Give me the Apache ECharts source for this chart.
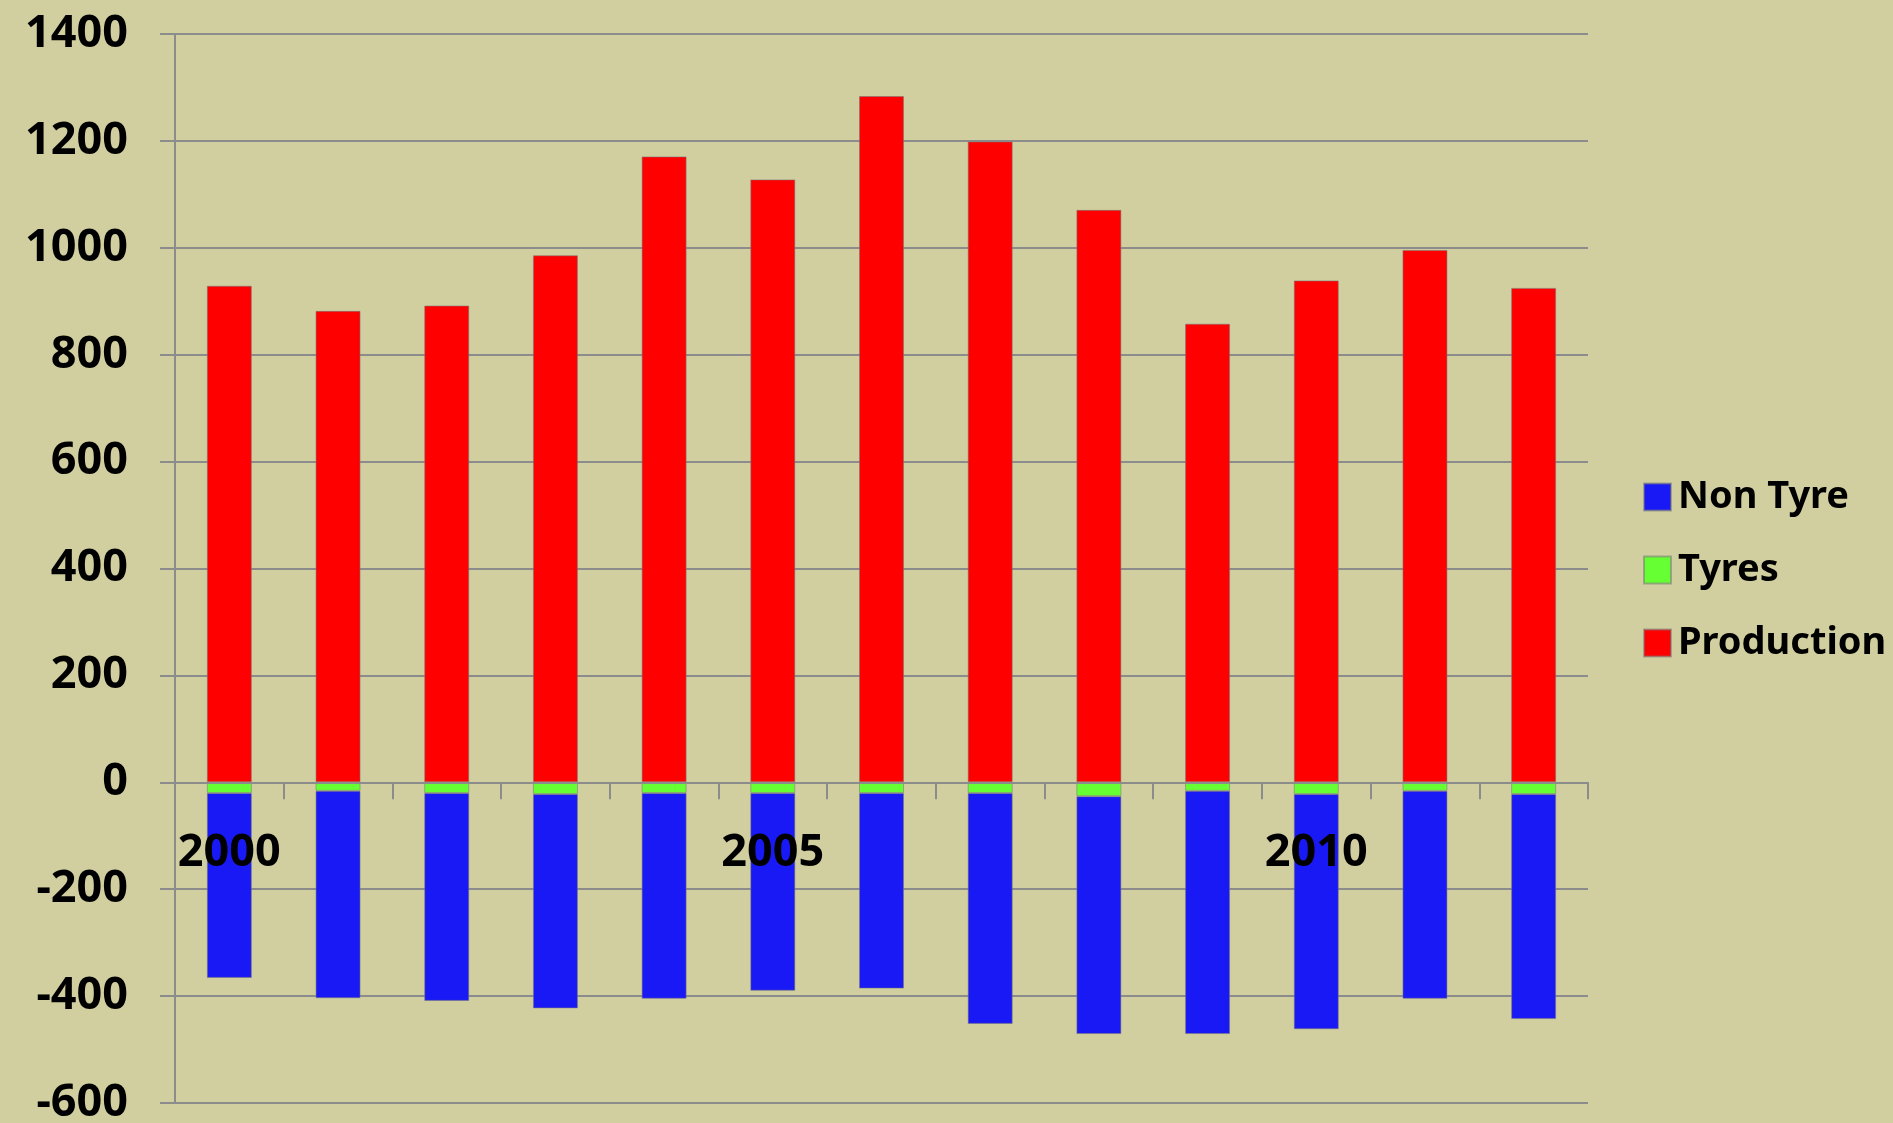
<!DOCTYPE html>
<html>
<head>
<meta charset="utf-8">
<title>Production, Tyres and Non Tyre</title>
<script src="https://cdn.jsdelivr.net/npm/echarts@6/dist/echarts.min.js"></script>
<style>
  html, body { margin: 0; padding: 0; background: #D1CF9F; }
  #chart { width: 1893px; height: 1123px; }
</style>
</head>
<body>
<div id="chart"></div>
<script>
// Yearly categories
const years = ['2000', '2001', '2002', '2003', '2004', '2005', '2006',
               '2007', '2008', '2009', '2010', '2011', '2012'];

// Series values (positive = production, negative = consumption split)
const production = [929, 882, 892, 986, 1171, 1128, 1284, 1199, 1071, 858, 939, 996, 925];
const tyres      = [-20, -16, -20, -22, -20, -20, -20, -20, -26, -16, -22, -16, -22];
const nonTyre    = [-346, -388, -389, -401, -385, -370, -366, -432, -445, -455, -440, -389, -421];

// Value axis range
const yMin = -600;
const yMax = 1400;
const yStep = 200;

const legendOrder = ['Non Tyre', 'Tyres', 'Production'];

const FONT = 'Noto Sans';
const GRID_GREY = '#8C8C8C';
const BAR_EDGE = 'rgba(120,120,120,0.55)';

// Plot area
const CHART_H = 1123;
const GRID_TOP = 34;
const GRID_BOTTOM = 20;
const plotHeight = CHART_H - GRID_TOP - GRID_BOTTOM;
// The category axis sits on the zero line of the value axis
const zeroOffset = -((0 - yMin) / (yMax - yMin)) * plotHeight;

const chart = echarts.init(document.getElementById('chart'));

const barSeries = (name, data, color) => ({
  name: name,
  type: 'bar',
  stack: 'total',
  data: data,
  barWidth: 45,
  itemStyle: { color: color, borderColor: BAR_EDGE, borderWidth: 1 },
  emphasis: { disabled: true }
});

chart.setOption({
  backgroundColor: '#D1CF9F',
  animation: false,
  textStyle: { fontFamily: FONT },
  grid: {
    left: 175, right: 305, top: GRID_TOP, bottom: GRID_BOTTOM,
    containLabel: false,
    outerBoundsMode: 'none'
  },
  legend: {
    data: legendOrder,
    orient: 'vertical',
    left: 1643,
    top: 478,
    padding: 0,
    itemWidth: 27,
    itemHeight: 27,
    itemGap: 35,
    icon: 'rect',
    textStyle: {
      fontFamily: FONT,
      fontWeight: 'bold',
      fontSize: 38,
      color: '#000',
      padding: [0, 0, 0, 2]
    }
  },
  xAxis: {
    type: 'category',
    data: years,
    position: 'bottom',
    offset: zeroOffset,
    z: 10,
    axisLine: { onZero: false, lineStyle: { color: GRID_GREY, width: 2 } },
    axisTick: { show: true, interval: 0, length: 17, lineStyle: { color: GRID_GREY, width: 2 } },
    axisLabel: {
      interval: 4,
      margin: 48,
      fontFamily: FONT,
      fontWeight: 'bold',
      fontSize: 45,
      color: '#000'
    },
    splitLine: { show: false }
  },
  yAxis: {
    type: 'value',
    min: yMin,
    max: yMax,
    interval: yStep,
    axisLine: { show: true, lineStyle: { color: GRID_GREY, width: 2 } },
    axisTick: { show: true, length: 15, lineStyle: { color: GRID_GREY, width: 2 } },
    axisLabel: {
      margin: 47,
      fontFamily: FONT,
      fontWeight: 'bold',
      fontSize: 45,
      color: '#000',
      formatter: (v) => String(v)
    },
    splitLine: { show: true, lineStyle: { color: GRID_GREY, width: 2 } }
  },
  series: [
    barSeries('Production', production, '#FF0000'),
    barSeries('Tyres', tyres, '#66FF33'),
    barSeries('Non Tyre', nonTyre, '#1919F5')
  ]
});
</script>
</body>
</html>
